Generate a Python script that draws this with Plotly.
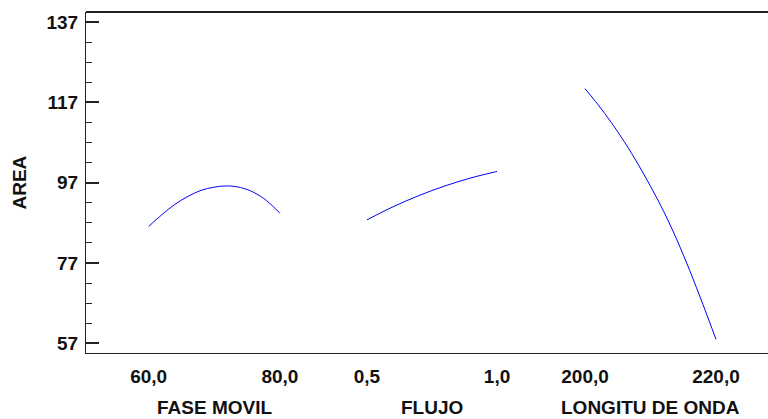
import plotly.graph_objects as go

# ---- data ----
fase_x = [60, 62, 64, 66, 68, 70, 72, 74, 76, 78, 80]
fase_y = [86.1, 89.0, 91.6, 93.6, 95.1, 95.9, 96.2, 95.8, 94.6, 92.5, 89.4]

flujo_x = [0.5, 0.6, 0.7, 0.8, 0.9, 1.0]
flujo_y = [87.75, 91.0, 93.8, 96.2, 98.2, 99.8]

long_x = [200, 202, 204, 206, 208, 210, 212, 214, 216, 218, 220]
long_y = [120.4, 116.4, 112.0, 107.2, 101.9, 96.1, 89.9, 82.9, 75.1, 66.7, 58.0]

y_ticks = [57, 77, 97, 117, 137]
fase_ticks = [60, 80]
fase_labels = ["60,0", "80,0"]
flujo_ticks = [0.5, 1.0]
flujo_labels = ["0,5", "1,0"]
long_ticks = [200, 220]
long_labels = ["200,0", "220,0"]

titles = ["FASE MOVIL", "FLUJO", "LONGITU DE ONDA"]
y_title = "AREA"

FONT = "Liberation Sans, Arial, sans-serif"
TXT = "#111111"
LINE = "#222222"

fig = go.Figure()
fig.add_trace(go.Scatter(x=fase_x, y=fase_y, mode="lines", line=dict(color="#0000ff", width=1, shape="spline"),
                         xaxis="x", yaxis="y", showlegend=False))
fig.add_trace(go.Scatter(x=flujo_x, y=flujo_y, mode="lines", line=dict(color="#0000ff", width=1, shape="spline"),
                         xaxis="x2", yaxis="y", showlegend=False))
fig.add_trace(go.Scatter(x=long_x, y=long_y, mode="lines", line=dict(color="#0000ff", width=1, shape="spline"),
                         xaxis="x3", yaxis="y", showlegend=False))

tickfont = dict(family=FONT, size=19, color=TXT, weight="bold")

def xax(domain, rng, tv, tt):
    return dict(domain=domain, range=rng, anchor="y", tickvals=tv, ticktext=tt,
                showline=True, linecolor=LINE, linewidth=1, ticks="outside", ticklen=0,
                ticklabelstandoff=6, showgrid=False, zeroline=False, tickfont=tickfont,
                fixedrange=True)

d1 = 0.3482
d2 = 0.6672
fig.update_layout(
    width=768, height=419,
    margin=dict(l=86, r=0, t=12, b=66),
    paper_bgcolor="white", plot_bgcolor="white",
    xaxis=xax([0, d1], [50.46, 86.64], fase_ticks, fase_labels),
    xaxis2=xax([d1, d2], [0.3327, 1.1692], flujo_ticks, flujo_labels),
    xaxis3=xax([d2, 1], [193.28, 227.94], long_ticks, long_labels),
    yaxis=dict(range=[54.6, 139.5], tickvals=y_ticks, ticks="inside", ticklen=13, tickwidth=1.5,
               tickcolor=LINE, showline=True, linecolor=LINE, linewidth=1, showgrid=False,
               zeroline=False, tickfont=tickfont, ticklabelstandoff=3, fixedrange=True,
               minor=dict(tick0=57, dtick=5, ticks="inside", ticklen=6, tickcolor=LINE, tickwidth=1)),
)

# top frame line
fig.add_shape(type="line", xref="paper", yref="paper", x0=0, x1=1, y0=1, y1=1,
              line=dict(color=LINE, width=2))

titlefont = dict(family=FONT, size=19, color=TXT, weight="bold")
for ref, xc, t in [("x", 70, titles[0]), ("x2", 0.75, titles[1]), ("x3", 210, titles[2])]:
    fig.add_annotation(x=xc, xref=ref, y=-0.1946, yref="paper", text=t, showarrow=False,
                       xanchor="center", yanchor="bottom", font=titlefont,
                       borderpad=0)

fig.add_annotation(x=-0.0982, xref="paper", y=0.5, yref="paper", text=y_title, textangle=-90,
                   showarrow=False, xanchor="center", yanchor="middle", font=titlefont)

fig.write_html("out.html", config={"displayModeBar": False})
